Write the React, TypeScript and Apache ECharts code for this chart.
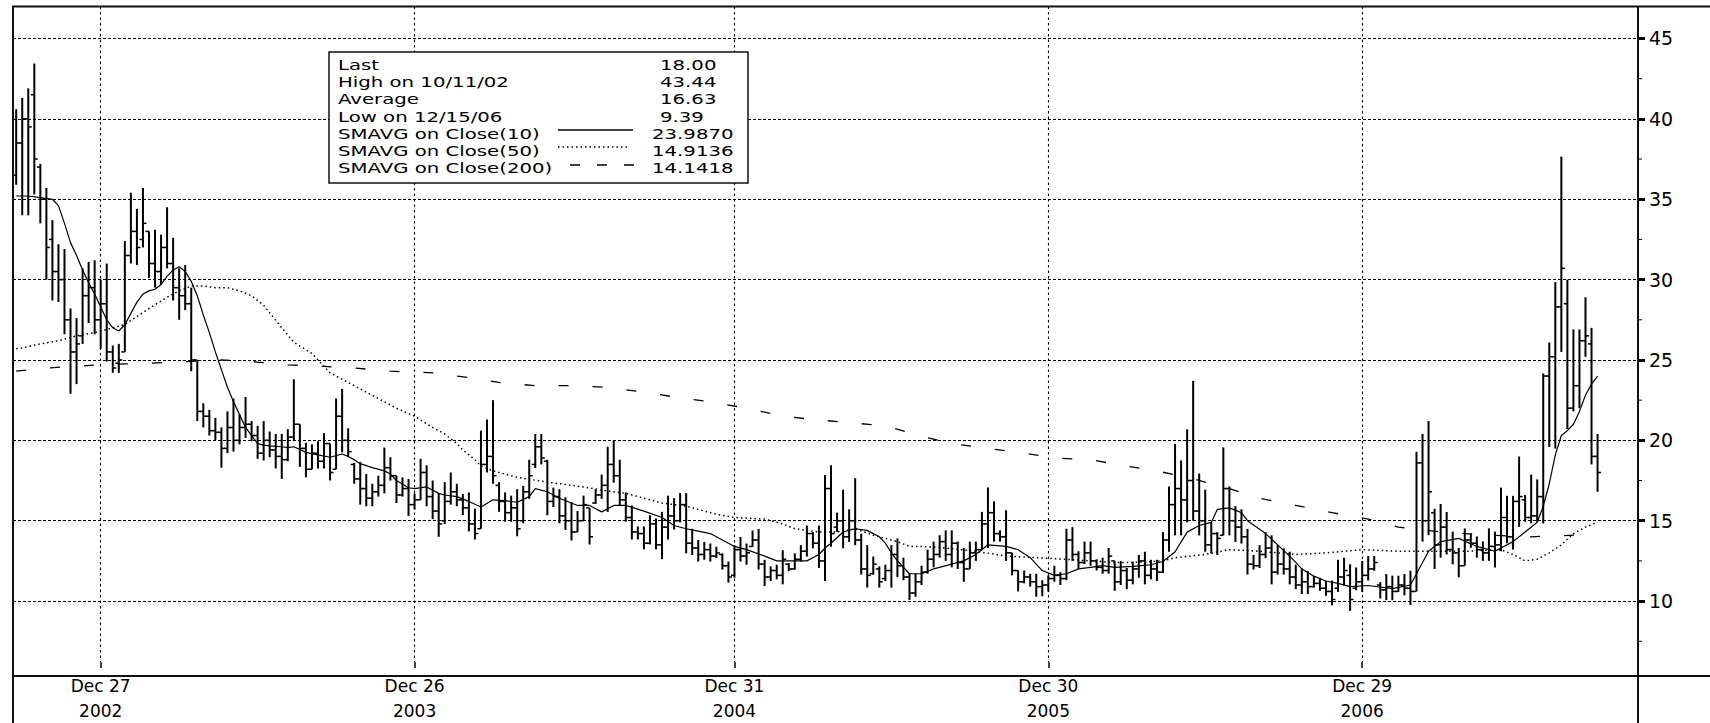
import React, { useEffect, useRef } from 'react';
import * as echarts from 'echarts';

// Weekly bars (Fridays), index 0 = 2002-09-20, last index 262 = 2007-09-28
const opens = [
  36.5, 38.5, 40.0, 41.5, 37.0, 35.0, 32.5, 30.5, 30.0, 27.5,
  25.5, 26.5, 29.0, 29.5, 27.5, 28.5, 25.5, 24.8, 25.5, 31.5,
  33.0, 32.5, 33.0, 31.0, 30.5, 32.0, 31.0, 29.5, 29.0, 28.5,
  25.0, 21.8, 21.5, 20.6, 20.5, 19.5, 20.8, 20.0, 20.8, 21.0,
  20.3, 19.2, 20.0, 19.4, 19.0, 18.8, 20.2, 21.0, 19.5, 18.2,
  19.2, 18.7, 19.8, 18.2, 21.5, 20.0, 18.5, 17.6, 17.0, 16.4,
  16.8, 17.2, 18.3, 17.8, 16.6, 17.0, 16.0, 16.3, 18.0, 16.5,
  15.6, 15.0, 16.2, 16.8, 16.3, 15.8, 14.8, 14.5, 18.5, 19.0,
  17.2, 16.2, 15.5, 15.8, 15.0, 16.8, 18.5, 19.6, 18.7, 16.2,
  16.5, 15.3, 15.0, 14.3, 15.0, 15.8, 16.1, 16.6, 17.2, 18.5,
  17.8, 16.3, 15.2, 14.3, 14.2, 13.6, 14.8, 13.5, 14.6, 15.3,
  15.0, 16.0, 13.6, 13.3, 12.9, 13.2, 12.8, 12.9, 12.2, 11.6,
  13.2, 12.8, 13.4, 13.8, 12.3, 11.5, 11.9, 11.6, 12.3, 12.0,
  12.6, 13.1, 14.2, 13.6, 12.5, 17.0, 14.6, 15.0, 14.0, 15.0,
  13.8, 12.0, 11.7, 12.0, 11.4, 11.9, 12.9, 12.2, 11.5, 10.5,
  11.2, 11.8, 12.6, 12.9, 13.7, 12.9, 13.6, 12.4, 12.0, 13.0,
  13.2, 14.8, 15.5, 14.2, 14.0, 13.0, 11.9, 11.2, 11.5, 11.2,
  10.9, 11.0, 11.4, 11.6, 11.4, 13.8, 12.9, 12.4, 13.0, 12.5,
  12.1, 11.9, 12.5, 11.2, 11.9, 11.3, 12.0, 12.5, 11.6, 12.0,
  11.8, 13.8, 16.0, 17.0, 16.3, 17.5, 15.6, 15.0, 13.5, 14.2,
  14.1, 17.0, 15.0, 14.6, 14.0, 12.3, 12.2, 12.9, 13.3, 11.8,
  12.3, 12.0, 11.5, 11.0, 11.2, 10.9, 11.1, 10.8, 10.6, 10.8,
  11.5, 11.6, 10.8, 11.2, 11.6, 12.0, 11.0, 10.7, 10.9, 10.6,
  11.0, 10.8, 10.6, 18.6, 15.0, 15.5, 13.5, 14.6, 13.2, 13.0,
  12.2, 13.8, 13.6, 13.2, 13.0, 13.4, 13.5, 15.2, 14.0, 16.2,
  16.3, 15.2, 15.3, 16.5, 24.0, 25.2, 28.3, 28.5, 22.0, 23.4,
  26.2, 26.0, 19.0,
];
const highs = [
  40.6, 41.3, 41.9, 43.44, 37.2, 35.7, 33.7, 32.2, 31.9, 28.2,
  27.6, 30.7, 31.1, 31.2, 30.0, 31.0, 25.9, 26.0, 32.4, 35.4,
  34.4, 35.7, 33.0, 33.1, 32.8, 34.5, 32.6, 30.7, 30.9, 29.5,
  25.0, 22.3, 21.9, 21.4, 20.8, 21.8, 22.6, 21.6, 22.7, 21.2,
  20.9, 21.2, 20.55, 20.4, 20.4, 20.7, 23.8, 21.0, 19.85, 19.75,
  19.95, 20.45, 19.8, 22.6, 23.2, 20.75, 18.6, 18.65, 17.9, 17.3,
  17.8, 19.55, 18.95, 17.8, 17.7, 17.6, 16.7, 18.85, 18.45, 17.5,
  16.7, 17.4, 18.0, 17.3, 16.66, 16.76, 15.75, 20.6, 21.3, 22.5,
  17.4, 16.76, 16.56, 16.96, 17.17, 18.79, 20.4, 20.4, 18.79, 17.06,
  16.96, 16.46, 16.15, 15.6, 16.56, 15.8, 16.96, 17.87, 19.6, 20.0,
  18.79, 16.76, 15.95, 14.64, 14.64, 15.34, 15.14, 15.55, 16.56, 16.4,
  16.72, 16.72, 14.5, 13.8, 13.68, 13.58, 13.38, 12.97, 12.46, 13.48,
  13.99, 13.58, 14.39, 14.49, 12.57, 12.16, 12.26, 13.17, 12.36, 12.97,
  13.48, 14.7, 14.29, 14.7, 17.84, 18.45, 15.5, 16.93, 15.71, 17.64,
  14.19, 13.48, 12.77, 12.16, 12.26, 13.48, 13.9, 12.7, 11.7, 11.7,
  12.2, 13.2, 13.7, 14.1, 14.4, 14.4, 13.7, 13.3, 13.7, 13.7,
  15.55, 17.07, 16.2, 14.4, 15.65, 13.0, 11.9, 11.9, 11.7, 11.7,
  11.3, 11.6, 12.2, 11.8, 14.5, 14.6, 13.1, 13.7, 13.7, 12.6,
  12.7, 13.3, 12.5, 12.5, 12.06, 12.46, 12.87, 13.07, 12.57, 12.57,
  14.29, 17.13, 19.77, 18.75, 20.68, 23.7, 17.94, 16.93, 14.9, 14.29,
  19.56, 17.13, 15.91, 15.71, 14.49, 12.87, 13.48, 14.29, 14.09, 13.48,
  13.28, 13.07, 12.26, 12.06, 11.86, 11.55, 11.45, 11.25, 11.28, 12.57,
  12.7, 12.29, 12.09, 12.5, 12.8, 12.8, 11.18, 11.68, 11.58, 11.58,
  11.68, 11.89, 19.29, 20.4, 21.2, 15.74, 16.04, 15.54, 14.32, 13.31,
  14.52, 14.22, 14.02, 13.71, 14.52, 14.32, 17.06, 16.55, 16.55, 18.99,
  16.6, 17.87, 17.57, 24.16, 26.09, 29.84, 37.65, 30.0, 26.9, 26.9,
  28.9, 27.0, 20.4,
];
const lows = [
  35.9, 34.0, 34.0, 35.3, 33.5, 30.0, 28.7, 28.6, 26.6, 22.9,
  23.5, 26.0, 27.3, 26.6, 25.7, 24.9, 24.2, 24.2, 25.5, 31.0,
  30.9, 32.0, 30.1, 29.5, 29.7, 30.7, 28.7, 27.5, 28.1, 24.3,
  21.2, 20.8, 20.3, 20.0, 18.3, 19.2, 19.3, 19.75, 20.15, 19.95,
  18.85, 18.75, 18.95, 18.25, 17.6, 18.7, 19.95, 18.35, 17.7, 18.2,
  18.25, 18.25, 17.5, 18.2, 19.25, 18.95, 17.3, 16.0, 15.9, 15.9,
  16.5, 16.7, 17.5, 16.1, 16.5, 15.3, 15.7, 16.3, 15.9, 15.1,
  14.0, 14.8, 16.0, 15.9, 15.35, 14.33, 13.83, 14.5, 18.0, 17.3,
  15.55, 14.94, 14.94, 14.03, 14.84, 16.36, 18.28, 18.5, 15.34, 15.85,
  14.84, 14.43, 13.77, 14.3, 15.0, 13.52, 16.05, 16.36, 15.55, 17.37,
  15.95, 14.94, 13.83, 13.83, 13.22, 13.52, 13.22, 12.61, 13.83, 14.45,
  14.9, 12.97, 12.87, 12.46, 12.57, 12.46, 12.67, 11.96, 11.15, 11.45,
  12.46, 12.26, 13.38, 11.96, 10.94, 11.25, 11.35, 11.04, 11.86, 11.96,
  12.46, 12.77, 13.28, 12.06, 11.25, 13.38, 14.29, 13.28, 13.68, 13.48,
  11.65, 10.84, 11.65, 10.84, 11.25, 10.84, 11.5, 11.3, 10.07, 10.27,
  11.0, 11.7, 12.1, 12.7, 12.5, 12.1, 12.0, 11.2, 12.0, 12.5,
  13.2, 13.3, 13.7, 13.7, 12.5, 11.6, 10.6, 11.1, 10.9, 10.27,
  10.3, 10.6, 11.2, 11.0, 11.3, 12.5, 12.0, 12.3, 12.2, 11.9,
  11.7, 11.7, 10.64, 11.0, 10.74, 11.04, 11.45, 11.04, 11.35, 11.25,
  11.75, 13.07, 14.09, 14.09, 14.9, 15.0, 14.09, 13.07, 12.97, 12.87,
  14.09, 14.09, 13.68, 13.58, 11.65, 11.96, 12.06, 12.67, 11.04, 11.65,
  11.65, 11.04, 10.74, 10.44, 10.44, 10.84, 10.64, 10.33, 9.73, 10.57,
  10.97, 9.39, 10.67, 10.57, 11.28, 11.89, 10.16, 10.06, 10.06, 10.57,
  10.36, 9.76, 10.6, 13.7, 14.1, 12.0, 12.7, 12.9, 12.29, 11.48,
  12.2, 13.31, 12.7, 12.5, 12.5, 12.09, 13.1, 13.6, 13.2, 14.62,
  14.93, 14.83, 14.93, 14.83, 19.59, 19.49, 25.5, 20.7, 21.8, 22.0,
  25.2, 18.5, 16.8,
];
const closes = [
  38.5, 40.0, 39.5, 37.5, 35.0, 32.0, 30.5, 30.0, 27.5, 25.5,
  26.0, 29.0, 29.5, 27.5, 28.5, 25.5, 24.5, 25.0, 31.5, 33.0,
  32.0, 33.5, 31.0, 30.5, 32.0, 31.0, 29.5, 29.0, 28.5, 25.0,
  21.8, 21.5, 20.6, 20.5, 19.5, 20.8, 20.0, 20.8, 21.0, 20.3,
  19.2, 20.0, 19.4, 19.0, 18.8, 20.2, 21.0, 19.5, 18.2, 19.2,
  18.7, 19.8, 18.0, 21.5, 20.0, 19.3, 17.6, 17.0, 16.4, 16.8,
  17.2, 18.3, 17.8, 16.6, 17.0, 16.0, 16.3, 18.0, 16.5, 15.6,
  14.8, 16.2, 16.8, 16.3, 15.8, 14.8, 14.2, 18.5, 19.0, 17.8,
  16.2, 15.5, 15.8, 14.5, 16.8, 17.8, 19.6, 18.9, 16.2, 16.5,
  15.3, 15.0, 14.3, 15.0, 16.0, 14.0, 16.6, 17.2, 18.5, 17.8,
  16.3, 15.2, 14.3, 14.2, 13.6, 14.8, 13.5, 14.6, 15.3, 15.0,
  16.0, 13.6, 13.3, 12.9, 13.2, 12.8, 13.0, 12.2, 11.5, 13.2,
  12.8, 13.0, 13.8, 12.3, 11.5, 11.9, 11.6, 12.6, 12.0, 12.6,
  13.1, 14.2, 13.6, 12.5, 17.0, 14.2, 15.0, 14.0, 15.0, 13.8,
  12.0, 11.6, 12.3, 11.2, 11.9, 12.9, 12.2, 11.5, 10.5, 11.2,
  11.8, 12.6, 12.9, 13.7, 12.9, 13.6, 12.4, 12.0, 13.0, 13.2,
  14.8, 15.5, 14.2, 14.0, 13.0, 11.9, 11.2, 11.5, 11.2, 10.9,
  11.0, 11.4, 11.6, 11.4, 13.8, 12.9, 12.4, 13.0, 12.5, 12.1,
  11.9, 12.8, 11.2, 11.9, 11.3, 12.0, 12.5, 11.6, 12.0, 11.8,
  13.8, 16.0, 17.0, 16.3, 17.5, 15.6, 15.0, 13.5, 14.2, 13.9,
  17.0, 15.0, 14.6, 14.0, 12.3, 12.2, 12.9, 13.3, 11.8, 12.3,
  12.0, 11.5, 11.0, 11.2, 10.9, 11.1, 10.8, 10.6, 10.1, 11.5,
  11.9, 10.1, 11.2, 11.6, 12.0, 12.4, 10.7, 10.9, 10.6, 11.0,
  10.8, 10.6, 18.6, 15.0, 16.8, 13.5, 14.6, 13.2, 13.0, 12.2,
  13.8, 13.6, 13.2, 13.0, 13.4, 13.5, 15.2, 14.0, 16.2, 16.5,
  15.2, 15.3, 16.5, 24.0, 25.2, 28.3, 30.7, 22.0, 23.4, 26.2,
  26.5, 19.0, 18.0,
];

// Moving averages: [week index, value]
const sma10 = [
  [0, 35.2], [2, 35.2], [4, 35.1], [6, 35.0], [7, 34.6], [8, 33.5], [9, 32.3], [10, 31.5], [11, 30.6], [12, 29.8],
  [13, 29.1], [14, 28.3], [15, 27.5], [16, 27.0], [17, 26.8], [18, 27.2], [19, 27.9], [20, 28.6], [21, 29.1], [22, 29.3],
  [23, 29.4], [24, 29.7], [25, 30.2], [26, 30.6], [27, 30.8], [28, 30.5], [29, 29.9], [30, 29.0], [31, 27.8], [32, 26.7],
  [33, 25.5], [34, 24.4], [35, 23.3], [36, 22.4], [37, 21.6], [38, 20.8], [39, 20.3], [40, 19.8], [41, 19.7], [42, 19.66],
  [44, 19.6], [45, 19.55], [46, 19.6], [48, 19.25], [50, 19.1], [52, 18.95], [54, 19.15], [55, 19.0], [56, 18.8], [57, 18.55],
  [59, 18.3], [61, 18.1], [62, 17.9], [63, 17.5], [65, 17.05], [66, 17.0], [68, 17.1], [70, 16.7], [71, 16.6], [73, 16.5],
  [75, 16.2], [77, 15.85], [79, 16.3], [81, 16.25], [83, 16.15], [85, 16.5], [86, 17.0], [88, 16.8], [90, 16.4], [93, 15.95],
  [95, 15.95], [97, 15.55], [99, 15.95], [101, 15.95], [104, 15.6], [107, 15.2], [109, 14.7], [111, 14.5], [113, 14.35], [115, 14.2],
  [117, 13.8], [119, 13.4], [121, 13.2], [124, 12.8], [126, 12.5], [128, 12.5], [131, 12.5], [133, 12.9], [134, 13.3], [135, 13.6],
  [137, 14.3], [139, 14.5], [141, 14.4], [143, 14.0], [144, 13.6], [145, 13.0], [146, 12.5], [148, 11.7], [150, 11.7], [152, 12.0],
  [155, 12.3], [157, 12.5], [159, 12.9], [161, 13.5], [164, 13.4], [166, 13.2], [168, 12.7], [170, 11.9], [172, 11.6], [174, 11.7],
  [176, 12.0], [178, 12.1], [180, 12.2], [182, 12.1], [185, 12.16], [188, 12.26], [190, 12.46], [192, 13.07], [194, 14.29], [196, 14.7],
  [198, 14.9], [199, 15.7], [201, 15.8], [203, 15.5], [204, 15.0], [207, 14.2], [209, 13.5], [211, 12.8], [213, 12.0], [215, 11.55],
  [217, 11.25], [219, 11.1], [221, 10.9], [224, 10.97], [228, 10.77], [231, 11.0], [232, 11.7], [234, 13.1], [236, 13.7], [239, 13.9],
  [242, 13.4], [245, 13.1], [246, 13.3], [248, 13.7], [250, 14.3], [252, 14.9], [253, 15.9], [254, 17.3], [255, 19.1], [256, 20.3],
  [257, 20.6], [258, 21.0], [259, 21.8], [260, 22.8], [261, 23.5], [262, 23.99],
];
const sma50 = [
  [0, 25.7], [1, 25.75], [4, 26.0], [7, 26.2], [10, 26.5], [13, 26.7], [16, 27.0], [18, 27.2], [20, 27.7], [22, 28.2],
  [25, 28.9], [27, 29.3], [29, 29.6], [31, 29.6], [33, 29.5], [35, 29.5], [37, 29.3], [39, 29.0], [41, 28.4], [44, 27.0],
  [46, 26.1], [49, 25.4], [52, 24.2], [55, 23.6], [58, 23.0], [60, 22.6], [63, 22.0], [66, 21.5], [69, 20.8], [71, 20.4],
  [73, 19.8], [74, 19.4], [76, 18.8], [77, 18.4], [79, 18.1], [83, 17.7], [88, 17.4], [94, 17.1], [97, 16.9], [101, 16.7],
  [105, 16.3], [107, 16.1], [111, 15.9], [116, 15.4], [119, 15.2], [124, 15.1], [127, 14.8], [129, 14.5], [133, 14.3], [136, 14.3],
  [139, 14.5], [142, 14.1], [144, 13.9], [146, 13.7], [148, 13.4], [150, 13.4], [154, 13.3], [159, 13.1], [164, 12.8], [169, 12.7],
  [174, 12.6], [178, 12.5], [182, 12.4], [185, 12.4], [190, 12.5], [192, 12.7], [197, 12.9], [201, 13.2], [206, 13.1], [212, 12.9],
  [217, 13.0], [223, 13.2], [229, 13.1], [236, 13.1], [240, 13.1], [246, 13.2], [248, 12.9], [250, 12.5], [252, 12.6], [254, 13.0],
  [256, 13.5], [258, 14.2], [260, 14.6], [262, 14.91],
];
const sma200 = [
  [0, 24.3], [5, 24.5], [14, 24.7], [22, 24.8], [28, 24.9], [34, 25.0], [39, 24.9], [45, 24.7], [51, 24.6], [56, 24.5],
  [62, 24.3], [69, 24.2], [75, 23.9], [80, 23.6], [86, 23.4], [92, 23.4], [98, 23.3], [104, 23.0], [109, 22.7], [115, 22.4],
  [121, 22.0], [127, 21.5], [132, 21.3], [138, 21.1], [144, 20.9], [150, 20.25], [155, 19.8], [161, 19.5], [167, 19.2], [172, 18.9],
  [178, 18.8], [183, 18.45], [189, 18.1], [195, 17.6], [201, 17.0], [206, 16.4], [212, 15.95], [218, 15.5], [224, 15.1], [229, 14.6],
  [236, 14.3], [244, 14.1], [251, 14.0], [258, 14.1], [262, 14.14],
];

const xMin = -0.53;
const xMax = 268.7;
const xTickWeeks = [14, 66, 119, 171, 223];
const xTickLabels = ['Dec 27\n2002', 'Dec 26\n2003', 'Dec 31\n2004', 'Dec 30\n2005', 'Dec 29\n2006'];
const yMin = 6.21;
const yMax = 46.99;
const yTickValues = [10, 15, 20, 25, 30, 35, 40, 45];
const yMinorTickValues = [7.5, 12.5, 17.5, 22.5, 27.5, 32.5, 37.5, 42.5];

const legendLabels = [
  'Last',
  'High on 10/11/02',
  'Average',
  'Low on 12/15/06',
  'SMAVG on Close(10)',
  'SMAVG on Close(50)',
  'SMAVG on Close(200)',
];
const legendValues = ['18.00', '43.44', '16.63', '9.39', '23.9870', '14.9136', '14.1418'];

export default function App() {
  const ref = useRef<HTMLDivElement>(null);

  useEffect(() => {
    if (!ref.current) return;
    const chart = echarts.init(ref.current, null, { renderer: 'svg' });
    const black = '#000';
    const font = 'DejaVu Sans';
    const ohlc = highs.map((h, k) => [k, opens[k], h, lows[k], closes[k]]);

    const renderBar = (params: any, api: any) => {
      const k = api.value(0);
      const pO = api.coord([k, api.value(1)]);
      const pH = api.coord([k, api.value(2)]);
      const pL = api.coord([k, api.value(3)]);
      const pC = api.coord([k, api.value(4)]);
      return {
        type: 'group',
        children: [
          { type: 'line', shape: { x1: pH[0], y1: pH[1], x2: pL[0], y2: pL[1] }, style: { stroke: black, lineWidth: 2 } },
          { type: 'line', shape: { x1: pO[0] - 3.5, y1: pO[1], x2: pO[0], y2: pO[1] }, style: { stroke: black, lineWidth: 1.5 } },
          { type: 'line', shape: { x1: pC[0], y1: pC[1], x2: pC[0] + 3.5, y2: pC[1] }, style: { stroke: black, lineWidth: 1.5 } },
        ],
      };
    };

    const renderMinorTick = (params: any, api: any) => {
      const p = api.coord([api.value(0), api.value(1)]);
      return {
        type: 'line',
        shape: { x1: p[0], y1: p[1], x2: p[0] + 4, y2: p[1] },
        style: { stroke: black, lineWidth: 1 },
      };
    };

    const rowY = (r: number) => 65 + r * 17.2;
    const textStyle = (t: string) => ({
      text: t, fill: black, fontFamily: font, fontSize: 14.5,
      align: 'left', verticalAlign: 'middle', textAlign: 'left', textVerticalAlign: 'middle',
    });
    const legendEls: any[] = [
      {
        type: 'rect',
        shape: { x: 329, y: 52, width: 419, height: 131 },
        style: { fill: '#fff', stroke: '#111', lineWidth: 1.5 },
        z: 100,
      },
    ];
    legendLabels.forEach((t, r) => {
      legendEls.push({ type: 'text', x: 338, y: rowY(r), scaleX: 1.36, z: 101, style: textStyle(t) });
    });
    legendValues.forEach((t, r) => {
      legendEls.push({ type: 'text', x: r < 4 ? 660 : 652, y: rowY(r), scaleX: 1.36, z: 101, style: textStyle(t) });
    });
    legendEls.push(
      { type: 'line', z: 101, shape: { x1: 558, y1: 130, x2: 633, y2: 130 }, style: { stroke: black, lineWidth: 1.3 } },
      { type: 'line', z: 101, shape: { x1: 558, y1: 147, x2: 629, y2: 147 }, style: { stroke: black, lineWidth: 1.3, lineDash: [1.5, 3] } },
      { type: 'line', z: 101, shape: { x1: 570, y1: 165, x2: 640, y2: 165 }, style: { stroke: black, lineWidth: 1.3, lineDash: [10, 17] } },
    );

    const frame = [
      { type: 'line', z: 120, shape: { x1: 12, y1: 6.5, x2: 1710, y2: 6.5 }, style: { stroke: '#111', lineWidth: 2 } },
      { type: 'line', z: 120, shape: { x1: 13, y1: 6, x2: 13, y2: 723 }, style: { stroke: '#111', lineWidth: 2 } },
      { type: 'line', z: 120, shape: { x1: 1638, y1: 6, x2: 1638, y2: 723 }, style: { stroke: '#111', lineWidth: 2 } },
      { type: 'line', z: 120, shape: { x1: 12, y1: 676, x2: 1710, y2: 676 }, style: { stroke: '#111', lineWidth: 2 } },
    ];

    const option: any = {
      animation: false,
      backgroundColor: '#fff',
      grid: { left: 13, right: 72, top: 6.5, bottom: 47, containLabel: false },
      xAxis: {
        type: 'value',
        min: xMin,
        max: xMax,
        axisLine: { show: false, onZero: false },
        axisTick: { show: true, customValues: xTickWeeks, length: 6, lineStyle: { color: black, width: 1.5 } },
        axisLabel: {
          show: true,
          customValues: xTickWeeks,
          formatter: (v: number) => {
            const i = xTickWeeks.indexOf(Math.round(v));
            return i >= 0 ? xTickLabels[i] : '';
          },
          fontFamily: font,
          fontSize: 17,
          color: black,
          lineHeight: 25,
          margin: 11,
        },
        splitLine: { show: true, lineStyle: { color: black, width: 1.1, type: [2.5, 3] } },
      },
      yAxis: {
        type: 'value',
        position: 'right',
        min: yMin,
        max: yMax,
        axisLine: { show: false, onZero: false },
        axisTick: { show: true, customValues: yTickValues, length: 7, lineStyle: { color: black, width: 3 } },
        axisLabel: {
          show: true,
          customValues: yTickValues,
          fontFamily: font,
          fontSize: 19,
          color: black,
          margin: 11,
        },
        splitLine: { show: true, lineStyle: { color: black, width: 1, type: [3, 2] } },
      },
      series: [
        {
          type: 'custom',
          name: 'Price',
          renderItem: renderBar,
          data: ohlc,
          encode: { x: 0, y: [1, 2, 3, 4] },
          z: 3,
          silent: true,
        },
        {
          type: 'custom',
          name: 'minor ticks',
          renderItem: renderMinorTick,
          data: yMinorTickValues.map((v) => [xMax, v]),
          encode: { x: 0, y: 1 },
          clip: false,
          z: 5,
          silent: true,
        },
        {
          type: 'line',
          name: 'SMAVG(10)',
          data: sma10,
          showSymbol: false,
          symbol: 'none',
          lineStyle: { color: black, width: 1.2 },
          z: 4,
          silent: true,
        },
        {
          type: 'line',
          name: 'SMAVG(50)',
          data: sma50,
          showSymbol: false,
          symbol: 'none',
          lineStyle: { color: black, width: 1.5, type: [1.5, 3] },
          z: 4,
          silent: true,
        },
        {
          type: 'line',
          name: 'SMAVG(200)',
          data: sma200,
          showSymbol: false,
          symbol: 'none',
          lineStyle: { color: black, width: 1.3, type: [10, 24] },
          z: 4,
          silent: true,
        },
      ],
      graphic: [...legendEls, ...frame],
    };

    chart.setOption(option);
    return () => chart.dispose();
  }, []);

  return (
    <div
      ref={ref}
      style={{ position: 'fixed', left: 0, top: 0, width: 1710, height: 723, background: '#fff' }}
    />
  );
}
